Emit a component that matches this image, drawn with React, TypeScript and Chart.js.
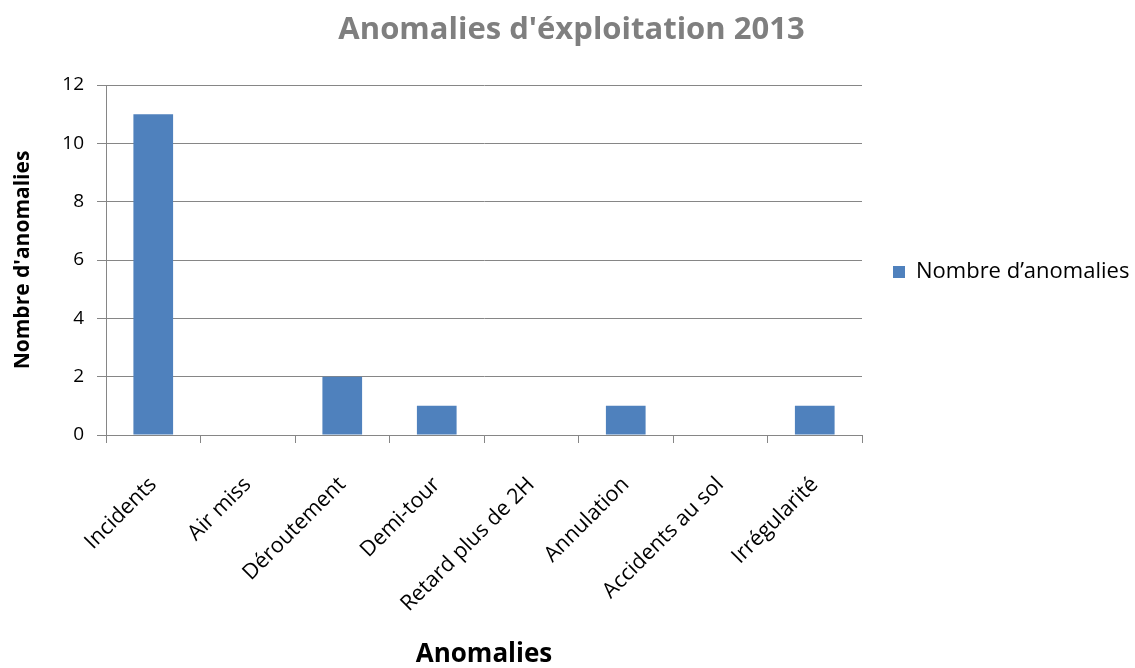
import React, { useEffect, useRef } from "react";
import { Chart, registerables } from "chart.js";

Chart.register(...registerables);

const categories = [
  "Incidents",
  "Air miss",
  "Déroutement",
  "Demi-tour",
  "Retard plus de 2H",
  "Annulation",
  "Accidents au sol",
  "Irrégularité",
];
const anomalies = [11, 0, 2, 1, 0, 1, 0, 1];
const yTicks = [0, 2, 4, 6, 8, 10, 12];

const seriesName = "Nombre d\u2019anomalies";
const titleText = "Anomalies d'éxploitation 2013";
const FONT = "'Open Sans', 'Noto Sans', sans-serif";

export default function App() {
  const ref = useRef<HTMLCanvasElement | null>(null);

  useEffect(() => {
    document.body.style.margin = "0";
    const ctx = ref.current!;
    const chart = new Chart(ctx, {
      type: "bar",
      data: {
        labels: categories,
        datasets: [
          {
            label: seriesName,
            data: anomalies,
            backgroundColor: "#4F81BD",
            borderWidth: 0,
            categoryPercentage: 1,
            barPercentage: 0.42,
          },
        ],
      },
      options: {
        animation: false,
        responsive: false,
        maintainAspectRatio: false,
        layout: { padding: { left: 8, right: 0, top: 12, bottom: 0 } },
        plugins: {
          title: {
            display: true,
            text: titleText,
            color: "#7f7f7f",
            font: { family: FONT, size: 31, weight: "bold" },
            padding: { top: 0, bottom: 35.8 },
          },
          legend: {
            position: "right",
            align: "center",
            fullSize: false,
            maxWidth: 273,
            title: {
              display: true,
              text: " ",
              font: { size: 10 },
              padding: 6,
            },
            labels: {
              boxWidth: 12,
              boxHeight: 12,
              padding: 31,
              color: "#000",
              font: { family: FONT, size: 22 },
            },
          },
          tooltip: { enabled: false },
        },
        scales: {
          x: {
            grid: {
              display: true,
              drawOnChartArea: false,
              drawTicks: true,
              tickLength: 8,
              color: "#868686",
              offset: true,
            },
            border: { display: true, color: "#868686", width: 1 },
            ticks: {
              maxRotation: 45,
              minRotation: 45,
              color: "#000",
              padding: 29,
              font: { family: FONT, size: 21.5 },
            },
            title: {
              display: true,
              text: "Anomalies",
              color: "#000",
              font: { family: FONT, size: 26, weight: "bold", lineHeight: 1.0 },
              padding: { top: 0, bottom: 0 },
            },
            afterFit: (scale: any) => {
              scale.height = 233;
            },
          },
          y: {
            min: 0,
            max: 12,
            afterBuildTicks: (scale: any) => {
              scale.ticks = yTicks.map((v) => ({ value: v }));
            },
            grid: {
              color: "#868686",
              tickLength: 9,
              drawTicks: true,
            },
            border: { display: true, color: "#868686", width: 1 },
            ticks: {
              color: "#000",
              padding: 13,
              font: { family: FONT, size: 19 },
            },
            title: {
              display: true,
              text: "Nombre d'anomalies",
              color: "#000",
              font: { family: FONT, size: 21, weight: "bold" },
              padding: { top: 2, bottom: 0 },
            },
            afterFit: (scale: any) => {
              scale.width = 98;
            },
          },
        },
      },
    });
    return () => chart.destroy();
  }, []);

  return (
    <div style={{ width: 1135, height: 668, background: "#fff" }}>
      <canvas ref={ref} width={1135} height={668} style={{ width: 1135, height: 668 }} />
    </div>
  );
}
